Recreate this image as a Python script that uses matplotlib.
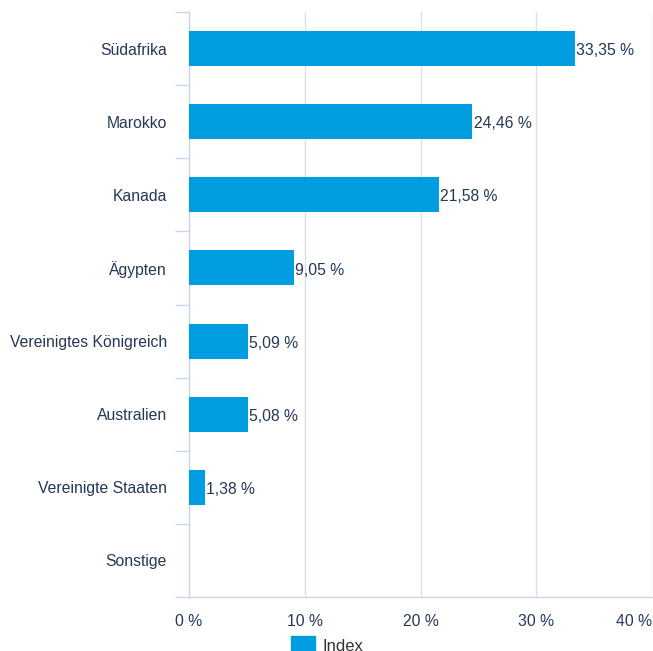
import numpy as np
from matplotlib import pyplot as plt
from matplotlib.patches import Rectangle

plt.rcParams['font.family'] = ['Liberation Sans', 'DejaVu Sans']

# Anteil je Herkunftsland in Prozent
countries = ["Südafrika", "Marokko", "Kanada", "Ägypten", "Vereinigtes Königreich",
             "Australien", "Vereinigte Staaten", "Sonstige"]
shares = [33.35, 24.46, 21.58, 9.05, 5.09, 5.08, 1.38, np.nan]
x_ticks = [0, 10, 20, 30, 40]
series_name = "Index"

bar_color = "#009de0"
text_color = "#253857"
axis_color = "#ccd6eb"
grid_color = "#d9e0eb"
fs = 11.3

W, H = 653, 651
fig = plt.figure(figsize=(W / 100, H / 100), dpi=100)
ax = fig.add_axes([189 / W, 1 - 597 / H, 463 / W, 585 / H])

pos = np.arange(len(countries))
ax.barh(pos, shares, height=0.48, color=bar_color, zorder=3)

for p, v in zip(pos, shares):
    if np.isnan(v):
        continue
    ax.annotate(f"{v:.2f} %".replace(".", ","), (v, p), xytext=(1, -1.5),
                textcoords="offset points", va="center", ha="left",
                fontsize=fs, color=text_color, zorder=4)

ax.set_xlim(0, 40)
ax.set_ylim(len(countries) - 0.5, -0.5)

ax.set_xticks(x_ticks)
ax.set_xticklabels([f"{t} %" for t in x_ticks])
ax.get_xticklabels()[-1].set_horizontalalignment("right")
ax.set_yticks(pos)
ax.set_yticklabels(countries)
ax.set_yticks(np.arange(len(countries) + 1) - 0.5, minor=True)

ax.tick_params(axis="x", length=0, pad=12, labelsize=fs, labelcolor=text_color)
ax.tick_params(axis="y", which="major", length=0, pad=16, labelsize=fs, labelcolor=text_color)
ax.tick_params(axis="y", which="minor", length=10, width=1, color=axis_color)

ax.grid(axis="x", color=grid_color, linewidth=1, zorder=0)
for side in ["top", "right"]:
    ax.spines[side].set_visible(False)
for side in ["left", "bottom"]:
    ax.spines[side].set_color(axis_color)
    ax.spines[side].set_linewidth(1)

# legend at the lower edge
fig.add_artist(Rectangle((291 / W, 1 - 660 / H), 24 / W, 24 / H,
                         transform=fig.transFigure, color=bar_color))
fig.text(322 / W, 1 - 651 / H, series_name, ha="left", va="baseline",
         fontsize=12, color="#333333")

fig.savefig("out.png", dpi=100)
